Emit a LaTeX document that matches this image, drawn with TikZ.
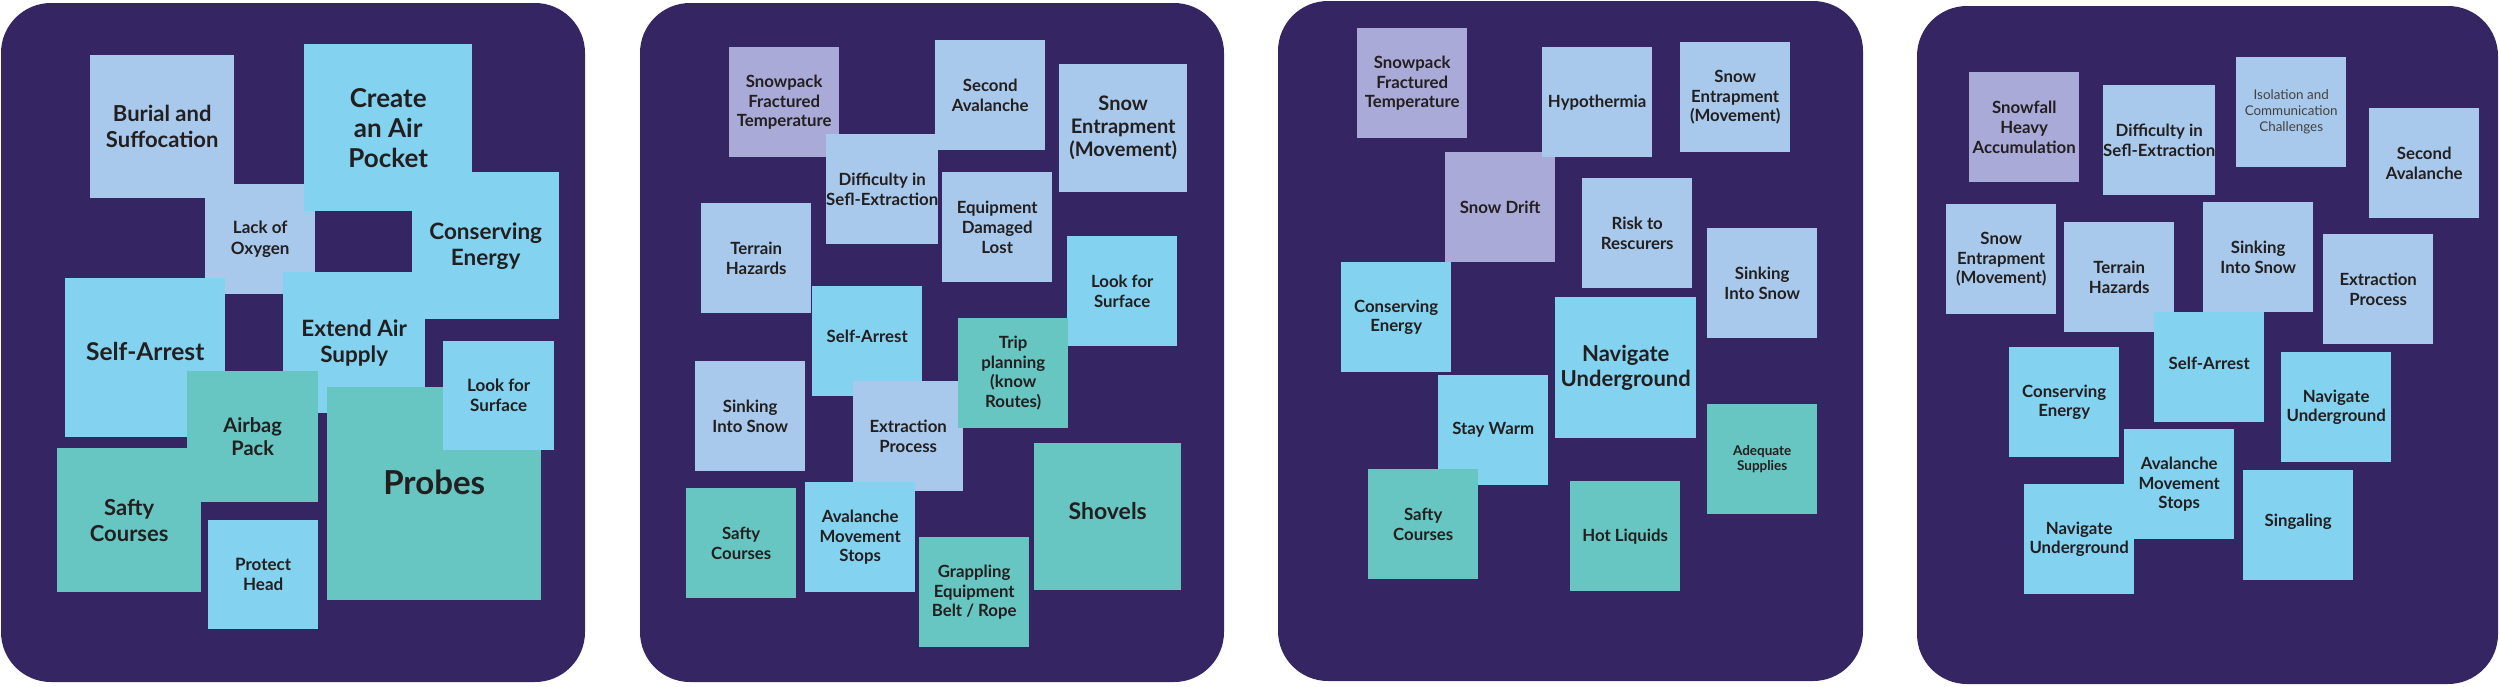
\documentclass[tikz,border=0pt]{standalone}
\usepackage{fontspec}
\setmainfont{Lato}
\definecolor{panelc}{HTML}{352562}
\definecolor{lbc}{HTML}{A8C9EB}
\definecolor{skyc}{HTML}{83D2F0}
\definecolor{tealc}{HTML}{67C6C1}
\definecolor{lavc}{HTML}{A9AAD7}
\definecolor{inkc}{HTML}{231F20}
\tikzset{
  panel/.style={fill=panelc, rounded corners=50pt},
  note/.style={anchor=north west, inner sep=0pt, align=center, text=inkc,
    minimum width=110pt, minimum height=110pt,
    font=\fontsize{16.8}{19.7}\selectfont\bfseries},
  wh/.style 2 args={minimum width=#1pt, minimum height=#2pt},
  fs/.style 2 args={font=\fontsize{#1}{#2}\selectfont\bfseries},
  fl/.style 2 args={font=\fontsize{#1}{#2}\selectfont, text=inkc!85},
  nlb/.style={note, fill=lbc},
  nsky/.style={note, fill=skyc},
  nteal/.style={note, fill=tealc},
  nlav/.style={note, fill=lavc},
}
\begin{document}
\begin{tikzpicture}[x=1pt,y=-1pt]
\useasboundingbox (0,0) rectangle (2500,686);
% panels
\fill[panel] (1,3) rectangle (585,682);
\fill[panel] (640,3) rectangle (1224,682);
\fill[panel] (1278,1) rectangle (1863,681);
\fill[panel] (1917,6) rectangle (2498,684);

% ---------- panel 1
\node[nlb, wh={144}{143}, fs={22}{26}] (a1) at (90,55) {Burial and\\Suffocation};
\node[nlb, fs={17}{20.5}] (a2) at (205,184) {Lack of\\Oxygen};
\node[nsky, wh={168}{167}, fs={26}{30}] (a3) at (304,44) {Create\\an Air\\Pocket};
\node[nsky, wh={147}{147}, fs={22.5}{26}] (a4) at (412,172) {Conserving\\Energy};
\node[nsky, wh={160}{159}, fs={24.5}{28}, text depth=12pt] (a5) at (65,278) {Self-Arrest};
\node[nsky, wh={142}{141}, fs={22.5}{26}] (a6) at (283,272) {Extend Air\\Supply};
\node[nteal, wh={131}{131}, fs={20}{23}] (a7) at (187,371) {Airbag\\Pack};
\node[nteal, wh={144}{144}, fs={22}{26}] (a8) at (57,448) {Safty\\Courses};
\node[nsky, wh={110}{109}, fs={17}{20}] (a9) at (208,520) {Protect\\Head};
\node[nteal, wh={214}{213}, fs={33}{38}, text depth=22pt] (a10) at (327,387) {Probes};
\node[nsky, wh={111}{109}, fs={17}{20}] (a11) at (443,341) {Look for\\Surface};

% ---------- panel 2
\node[nlav] (b1) at (729,47) {Snowpack\\Fractured\\Temperature};
\node[nlb] (b2) at (935,40) {Second\\Avalanche};
\node[nlb, wh={128}{128}, fs={20}{23}] (b3) at (1059,64) {Snow\\Entrapment\\(Movement)};
\node[nlb] (b4) at (826,134) {Difficulty in\\Sefl-Extraction};
\node[nlb] (b5) at (701,203) {Terrain\\Hazards};
\node[nlb] (b6) at (942,172) {Equipment\\Damaged\\Lost};
\node[nsky] (b7) at (1067,236) {Look for\\Surface};
\node[nsky, text depth=10pt] (b8) at (812,286) {Self-Arrest};
\node[nlb] (b9) at (695,361) {Sinking\\Into Snow};
\node[nlb] (b10) at (853,381) {Extraction\\Process};
\node[nteal] (b11) at (958,318) {Trip\\planning\\(know\\Routes)};
\node[nteal] (b12) at (686,488) {Safty\\Courses};
\node[nsky] (b13) at (805,482) {Avalanche\\Movement\\Stops};
\node[nteal] (b14) at (919,537) {Grappling\\Equipment\\Belt / Rope};
\node[nteal, wh={147}{147}, fs={23}{27}, text depth=12pt] (b15) at (1034,443) {Shovels};

% ---------- panel 3
\node[nlav] (c1) at (1357,28) {Snowpack\\Fractured\\Temperature};
\node[nlav] (c2) at (1445,152) {Snow Drift};
\node[nlb] (c3) at (1542,47) {Hypothermia};
\node[nlb] (c4) at (1680,42) {Snow\\Entrapment\\(Movement)};
\node[nlb] (c5) at (1582,178) {Risk to\\Rescurers};
\node[nsky] (c6) at (1341,262) {Conserving\\Energy};
\node[nlb] (c7) at (1707,228) {Sinking\\Into Snow};
\node[nsky, wh={141}{141}, fs={22}{25}] (c8) at (1555,297) {Navigate\\Underground};
\node[nsky] (c9) at (1438,375) {Stay Warm};
\node[nteal] (c10) at (1368,469) {Safty\\Courses};
\node[nteal, fs={13.5}{15.8}] (c11) at (1707,404) {Adequate\\Supplies};
\node[nteal] (c12) at (1570,481) {Hot Liquids};

% ---------- panel 4
\node[nlav] (d1) at (1969,72) {Snowfall\\Heavy\\Accumulation};
\node[nlb] (d2) at (2103,85) {Difficulty in\\Sefl-Extraction};
\node[nlb, fl={13.4}{16}] (d3) at (2236,57) {Isolation and\\Communication\\Challenges};
\node[nlb] (d4) at (2369,108) {Second\\Avalanche};
\node[nlb] (d5) at (1946,204) {Snow\\Entrapment\\(Movement)};
\node[nlb] (d6) at (2064,222) {Terrain\\Hazards};
\node[nlb] (d7) at (2203,202) {Sinking\\Into Snow};
\node[nlb] (d8) at (2323,234) {Extraction\\Process};
\node[nsky, text depth=8pt] (d9) at (2154,312) {Self-Arrest};
\node[nsky] (d10) at (2009,347) {Conserving\\Energy};
\node[nsky] (d11) at (2281,352) {Navigate\\Underground};
\node[nsky] (d12) at (2124,429) {Avalanche\\Movement\\Stops};
\node[nsky] (d13) at (2024,484) {Navigate\\Underground};
\node[nsky, text depth=10pt] (d14) at (2243,470) {Singaling};
\end{tikzpicture}
\end{document}
